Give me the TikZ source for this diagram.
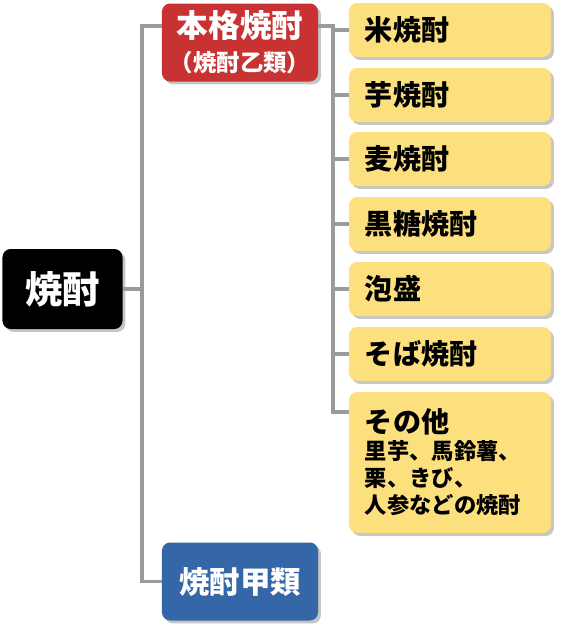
\documentclass[tikz,border=0pt]{standalone}
\usepackage{fontspec}
\newfontfamily\jp{Noto Sans CJK JP}
\usepackage{tikz}
\usetikzlibrary{shadows,positioning,calc}
\definecolor{redorg}{RGB}{200,50,50}
\definecolor{blueorg}{RGB}{52,102,168}
\definecolor{yelloworg}{RGB}{253,224,126}
\definecolor{lineorg}{RGB}{155,155,155}

\begin{document}
\begin{tikzpicture}[x=0.03cm,y=-0.03cm]

    \tikzstyle{every node}=[font=\jp\bfseries]
    \tikzstyle{box}=[rectangle, rounded corners=7pt, inner sep=0pt,
        drop shadow={shadow xshift=2.5pt, shadow yshift=-2.5pt, opacity=.45}]
    \tikzstyle{head}=[box, text=white, minimum width=4.68cm, minimum height=2.34cm, align=center]
    \tikzstyle{kind}=[box, fill=yelloworg, text=black, minimum width=6.06cm, minimum height=1.62cm,
        inner xsep=0.48cm, text width=5.1cm, align=left, font={\jp\bfseries\fontsize{24}{28}\selectfont}]
    \tikzstyle{link}=[draw=lineorg, line width=2.6pt]

    \useasboundingbox (0,0) rectangle (561,632);

    \node[box, fill=black, text=white, minimum width=3.6cm, minimum height=2.4cm,
        font={\jp\bfseries\fontsize{32}{36}\selectfont}] (shochu) at (62.5,289) {焼酎};
    \node[head, fill=redorg, font={\jp\bfseries\fontsize{20}{29}\selectfont}] (honkaku) at (240,42.5)
        {{\fontsize{27}{29}\selectfont 本格焼酎}\\（焼酎乙類）};
    \node[head, fill=blueorg, font={\jp\bfseries\fontsize{26}{30}\selectfont}] (kourui) at (240,581.5) {焼酎甲類};

    \node[kind] (kome) at (450,30) {米焼酎};
    \node[kind] (imo) at (450,95) {芋焼酎};
    \node[kind] (mugi) at (450,159) {麦焼酎};
    \node[kind] (kokuto) at (450,224) {黒糖焼酎};
    \node[kind] (awamori) at (450,289) {泡盛};
    \node[kind] (soba) at (450,354) {そば焼酎};
    \node[kind, minimum height=4.23cm, font={\jp\bfseries\fontsize{19}{23}\selectfont}] (sonota) at (450,462.5)
        {{\fontsize{24}{29}\selectfont その他}\\里芋、馬鈴薯、\\栗、きび、\\人参などの焼酎};

    \coordinate (tL) at (142,26);
    \coordinate (mL) at (142,289);
    \coordinate (tR) at (333,26);
    \coordinate (sR) at (333,412);

    \draw[link] (shochu.east) -- (mL);
    \draw[link] (honkaku.west |- tL) -- (tL) |- (kourui.west);
    \draw[link] (honkaku.east |- tR) -- (tR) -- (sR) -- (sonota.west |- sR);
    \foreach \k in {kome,imo,mugi,kokuto,awamori,soba}
        \draw[link] (\k.west) -- (\k.west -| tR);
\end{tikzpicture}
\end{document}
